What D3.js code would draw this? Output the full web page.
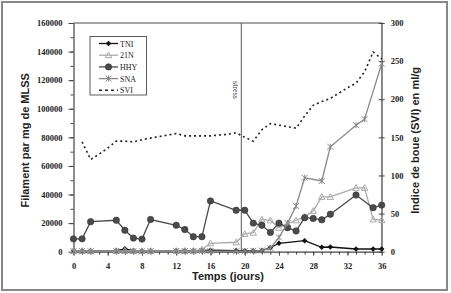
<!DOCTYPE html>
<html>
<head>
<meta charset="utf-8">
<script src="https://cdn.jsdelivr.net/npm/d3@7"></script>
<style>
  body { margin: 0; background: #fff; }
  svg { display: block; }
</style>
</head>
<body>
<div id="chart"></div>
<script>
// Days (x values) and readings for each series
const hhyDays = [0, 1, 2, 5, 6, 7, 8, 9, 12, 13, 14, 15, 16, 19, 20, 21, 22, 23, 24, 25, 26, 27, 28, 29, 30, 33, 35, 36];
const hhyVals = [9000, 9000, 21000, 22000, 15000, 9500, 8800, 22500, 18500, 15500, 10500, 10500, 35500, 29000, 29000, 20000, 18500, 13500, 20000, 16800, 14500, 23800, 23300, 22300, 26200, 39700, 30800, 32600];

const tniDays = [0, 1, 2, 5, 6, 7, 8, 9, 12, 13, 14, 15, 16, 19, 20, 21, 22, 23, 24, 27, 29, 30, 33, 35, 36];
const tniVals = [800, 800, 700, 800, 2000, 800, 600, 700, 800, 900, 800, 900, 1000, 800, 700, 600, 800, 2800, 5900, 7700, 3100, 3300, 1900, 1900, 1900];

const n21Days = [0, 1, 2, 5, 6, 7, 8, 9, 12, 13, 14, 15, 16, 19, 20, 21, 22, 23, 24, 25, 26, 27, 28, 29, 30, 33, 34, 35, 36];
const n21Vals = [600, 500, 500, 600, 700, 500, 500, 600, 600, 500, 600, 1500, 5900, 6600, 12400, 13300, 22600, 22000, 16800, 19500, 22000, 24400, 28600, 38400, 38400, 44700, 44700, 22600, 22100];

const snaDays = [0, 1, 2, 5, 6, 7, 8, 9, 12, 13, 14, 15, 16, 19, 20, 21, 22, 23, 24, 25, 26, 27, 29, 30, 33, 34, 36];
const snaVals = [400, 400, 300, 500, 600, 400, 300, 400, 500, 400, 400, 500, 400, 300, 400, 600, 800, 2500, 10000, 20000, 32000, 51700, 49500, 73400, 88500, 92700, 131600];

const sviDays = [1, 2, 3, 4, 5, 6, 7, 8, 9, 10, 11, 12, 13, 14, 15, 16, 17, 18, 19, 20, 21, 22, 23, 24, 25, 26, 27, 28, 29, 30, 31, 32, 33, 34, 35, 36];
const sviVals = [144, 121, 128, 136, 145, 145, 144, 147, 149, 151, 153, 155, 152, 152, 152, 152, 153, 154, 156, 150, 145, 160, 168, 166, 164, 162, 178, 192, 197, 201, 208, 215, 221, 236, 262, 253];

const stressDay = 19.6;
const xTicks = [0, 4, 8, 12, 16, 20, 24, 28, 32, 36];
const yLeftTicks = [0, 20000, 40000, 60000, 80000, 100000, 120000, 140000, 160000];
const yRightTicks = [0, 50, 100, 150, 200, 250, 300];
const legendNames = ["TNI", "21N", "HHY", "SNA", "SVI"];

const W = 451, H = 293;
const plot = { left: 73.5, right: 381.7, top: 23, bottom: 251.7 };

const svg = d3.select("#chart").append("svg")
  .attr("width", W).attr("height", H);

// outer frame
svg.append("rect")
  .attr("x", 2).attr("y", 2).attr("width", 445).attr("height", 288)
  .attr("fill", "#fff").attr("stroke", "#888").attr("stroke-width", 2);

const x = d3.scaleLinear().domain([0, 36]).range([plot.left, plot.right]);
const yL = d3.scaleLinear().domain([0, 160000]).range([plot.bottom, plot.top]);
const yR = d3.scaleLinear().domain([0, 300]).range([plot.bottom, plot.top]);

// plot frame (top and right in gray)
svg.append("path")
  .attr("d", `M${plot.left},${plot.top}H${plot.right}V${plot.bottom}`)
  .attr("fill", "none").attr("stroke", "#888").attr("stroke-width", 1.5);

const tickFont = "'Liberation Serif', 'Times New Roman', serif";

function styleAxis(g) {
  g.selectAll("path.domain").attr("stroke", "#444").attr("stroke-width", 1.2);
  g.selectAll(".tick line").attr("stroke", "#444");
  g.selectAll("text")
    .attr("font-family", tickFont).attr("font-weight", "bold")
    .attr("font-size", 8.5).attr("fill", "#222");
}

// minor ticks
const minorX = d3.range(0, 37);
svg.append("g")
  .attr("transform", `translate(0,${plot.bottom})`)
  .call(d3.axisBottom(x).tickValues(minorX).tickSize(3).tickFormat(""))
  .call(g => g.select(".domain").remove())
  .selectAll("line").attr("stroke", "#444");

svg.append("g")
  .attr("transform", `translate(${plot.left},0)`)
  .call(d3.axisLeft(yL).tickValues(d3.range(0, 160001, 10000)).tickSize(3).tickFormat(""))
  .call(g => g.select(".domain").remove())
  .selectAll("line").attr("stroke", "#444");

svg.append("g")
  .attr("transform", `translate(0,${plot.bottom})`)
  .call(d3.axisBottom(x).tickValues(xTicks).tickSize(4).tickPadding(7).tickSizeOuter(0))
  .call(styleAxis);

svg.append("g")
  .attr("transform", `translate(${plot.left},0)`)
  .call(d3.axisLeft(yL).tickValues(yLeftTicks).tickSize(5).tickPadding(6).tickSizeOuter(0).tickFormat(d3.format("d")))
  .call(styleAxis);

svg.append("g")
  .attr("transform", `translate(${plot.right},0)`)
  .call(d3.axisRight(yR).tickValues(yRightTicks).tickSizeInner(4).tickSizeOuter(0).tickPadding(5)
    .tickFormat(d3.format("d")))
  .call(styleAxis)
  .call(g => g.selectAll(".tick line").attr("x1", -3).attr("x2", 3))
  .call(g => g.select(".domain").attr("stroke", "#888").attr("stroke-width", 1.5));

// axis titles
const titleFont = "'Liberation Sans', Arial, sans-serif";
svg.append("text")
  .attr("transform", `translate(29,${(plot.top + plot.bottom) / 2 + 3}) rotate(-90)`)
  .attr("text-anchor", "middle").attr("font-family", titleFont)
  .attr("font-weight", "bold").attr("font-size", 11).attr("fill", "#222")
  .text("Filament par mg de MLSS");

svg.append("text")
  .attr("x", 228).attr("y", 280)
  .attr("text-anchor", "middle").attr("font-family", titleFont)
  .attr("font-weight", "bold").attr("font-size", 11).attr("fill", "#222")
  .text("Temps (jours)");

svg.append("text")
  .attr("transform", `translate(419,${(plot.top + plot.bottom) / 2 + 3}) rotate(-90)`)
  .attr("text-anchor", "middle").attr("font-family", titleFont)
  .attr("font-weight", "bold").attr("font-size", 11).attr("fill", "#222")
  .text("Indice de boue (SVI) en ml/g");

// stress line
svg.append("line")
  .attr("x1", x(stressDay)).attr("x2", x(stressDay))
  .attr("y1", plot.top).attr("y2", plot.bottom)
  .attr("stroke", "#555").attr("stroke-width", 1);
svg.append("text")
  .attr("transform", `translate(${x(stressDay) - 8},90) rotate(90)`)
  .attr("text-anchor", "middle").attr("font-family", tickFont)
  .attr("font-size", 8).attr("fill", "#333")
  .text("stress");

// series
const series = [
  { name: "TNI", days: tniDays, vals: tniVals, color: "#111", marker: "diamond", size: 2.8 },
  { name: "21N", days: n21Days, vals: n21Vals, color: "#aaa", marker: "triangle", size: 3.2 },
  { name: "HHY", days: hhyDays, vals: hhyVals, color: "#4a4a4a", marker: "circle", size: 3.2 },
  { name: "SNA", days: snaDays, vals: snaVals, color: "#888", marker: "star", size: 3 }
];

function drawMarker(g, type, cx, cy, s, color) {
  if (type === "circle") {
    g.append("circle").attr("cx", cx).attr("cy", cy).attr("r", s)
      .attr("fill", color).attr("stroke", "#333").attr("stroke-width", 0.6);
  } else if (type === "diamond") {
    g.append("path")
      .attr("d", `M${cx},${cy - s}L${cx + s},${cy}L${cx},${cy + s}L${cx - s},${cy}Z`)
      .attr("fill", color);
  } else if (type === "triangle") {
    g.append("path")
      .attr("d", `M${cx},${cy - s}L${cx + s},${cy + s * 0.8}L${cx - s},${cy + s * 0.8}Z`)
      .attr("fill", "none").attr("stroke", color).attr("stroke-width", 1);
  } else if (type === "star") {
    g.append("path")
      .attr("d", `M${cx - s},${cy - s}L${cx + s},${cy + s}M${cx - s},${cy + s}L${cx + s},${cy - s}M${cx},${cy - s}V${cy + s}`)
      .attr("stroke", color).attr("stroke-width", 1);
  }
}

const line = d3.line().x(d => x(d[0])).y(d => yL(d[1]));

series.forEach(s => {
  const pts = s.days.map((d, i) => [d, s.vals[i]]);
  const g = svg.append("g");
  g.append("path").datum(pts)
    .attr("fill", "none").attr("stroke", s.color).attr("stroke-width", 1.3)
    .attr("d", line);
  pts.forEach(p => drawMarker(g, s.marker, x(p[0]), yL(p[1]), s.size, s.color));
});

const sviPts = sviDays.map((d, i) => [d, sviVals[i]]);
svg.append("path").datum(sviPts)
  .attr("fill", "none").attr("stroke", "#222").attr("stroke-width", 1.6)
  .attr("stroke-dasharray", "2,3")
  .attr("d", d3.line().x(d => x(d[0])).y(d => yR(d[1])));

// legend
const lg = svg.append("g");
lg.append("rect")
  .attr("x", 90).attr("y", 36.5).attr("width", 56.5).attr("height", 58.5)
  .attr("fill", "#fff").attr("stroke", "#333").attr("stroke-width", 0.8);
const legendStyle = {
  TNI: series[0], "21N": series[1], HHY: series[2], SNA: series[3]
};
legendNames.forEach((name, i) => {
  const ly = 43.5 + i * 11.7;
  if (name === "SVI") {
    lg.append("line").attr("x1", 99).attr("x2", 118).attr("y1", ly).attr("y2", ly)
      .attr("stroke", "#222").attr("stroke-width", 1.6).attr("stroke-dasharray", "3,3");
  } else {
    const s = legendStyle[name];
    lg.append("line").attr("x1", 99).attr("x2", 118).attr("y1", ly).attr("y2", ly)
      .attr("stroke", s.color).attr("stroke-width", 1.3);
    drawMarker(lg, s.marker, 108.5, ly, s.size, s.color);
  }
  lg.append("text").attr("x", 120).attr("y", ly + 3)
    .attr("font-family", tickFont).attr("font-size", 8).attr("fill", "#222")
    .text(name);
});
</script>
</body>
</html>
